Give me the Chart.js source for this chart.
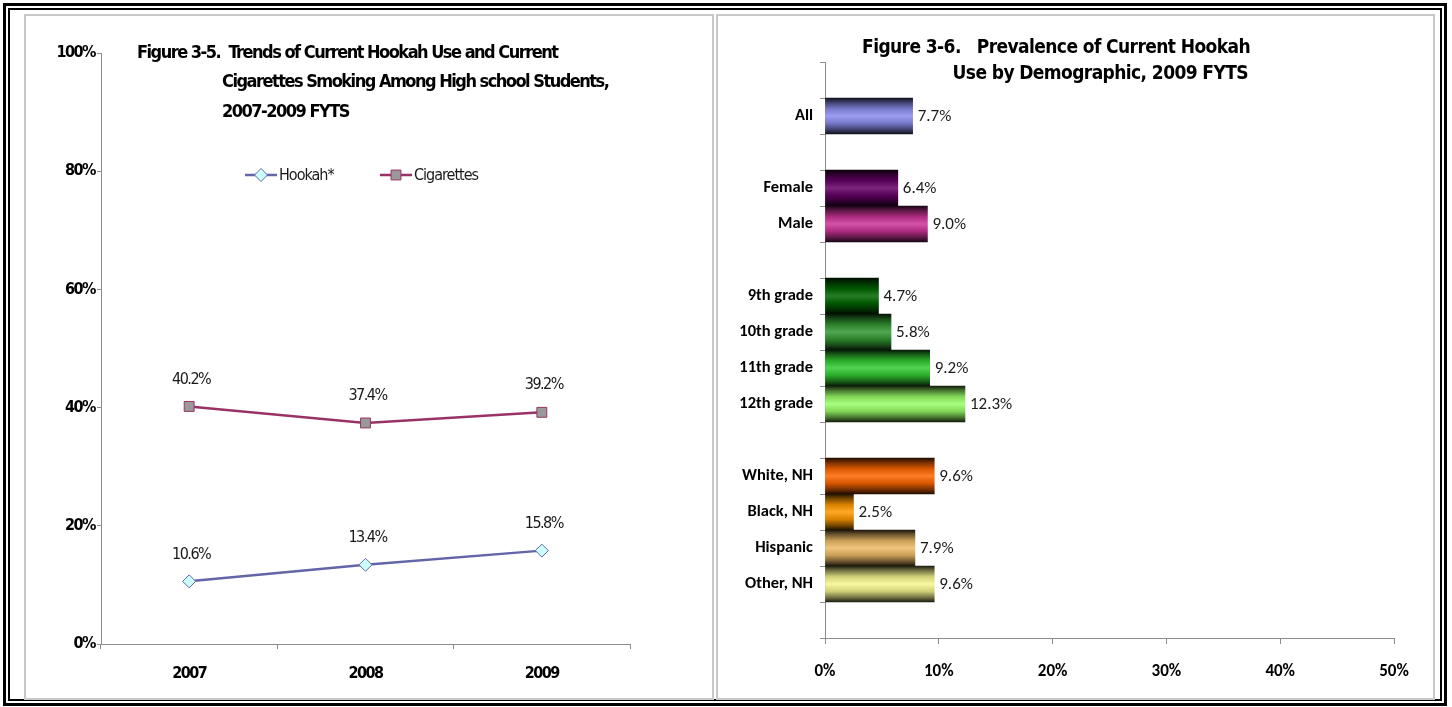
<!DOCTYPE html>
<html>
<head>
<meta charset="utf-8">
<script src="https://cdn.jsdelivr.net/npm/chart.js@4.4.1/dist/chart.umd.min.js"></script>
<style>
  html, body { margin: 0; padding: 0; background: #ffffff; }
  body { width: 1452px; height: 707px; position: relative; overflow: hidden; }
  #outer { position: absolute; left: 3px; top: 3px; width: 1444px; height: 703px; box-sizing: border-box; border: 3px solid #000; padding: 2px; }
  #inner { width: 100%; height: 100%; box-sizing: border-box; border: 2px solid #000; }
  .panel { position: absolute; box-sizing: border-box; border: 2px solid #c8c8c8; background: #fff; }
  #p1 { left: 24px; top: 14px; width: 690px; height: 686px; }
  #p2 { left: 716px; top: 14px; width: 719px; height: 686px; }
  canvas { position: absolute; }
  #c1 { left: 27px; top: 17px; }
  #c2 { left: 719px; top: 17px; }
</style>
</head>
<body>
<div id="outer"><div id="inner"></div></div>
<div class="panel" id="p1"></div>
<div class="panel" id="p2"></div>
<canvas id="c1" width="684" height="680"></canvas>
<canvas id="c2" width="712" height="680"></canvas>
<script>
// ---------- Data: Figure 3-5 ----------
const years = ['2007', '2008', '2009'];
const hookah = [10.6, 13.4, 15.8];
const cigarettes = [40.2, 37.4, 39.2];
const lineTitle = [
  'Figure 3-5.  Trends of Current Hookah Use and Current',
  'Cigarettes Smoking Among High school Students,',
  '2007-2009 FYTS'
];

// ---------- Data: Figure 3-6 ----------
const demoLabels = ['', 'All', '', 'Female', 'Male', '', '9th grade', '10th grade', '11th grade', '12th grade', '', 'White, NH', 'Black, NH', 'Hispanic', 'Other, NH', ''];
const demoValues = [null, 7.7, null, 6.4, 9.0, null, 4.7, 5.8, 9.2, 12.3, null, 9.6, 2.5, 7.9, 9.6, null];
const demoColors = [null, '#8c8cf0', null, '#660066', '#cc3399', null, '#006600', '#339933', '#33cc33', '#99ff66', null, '#ff6600', '#ff9900', '#eebb66', '#f6f690', null];
const barTitle = ['Figure 3-6.   Prevalence of Current Hookah', 'Use by Demographic, 2009 FYTS'];

const NARROW = "'Liberation Sans Narrow', 'DejaVu Sans Condensed', 'Arial Narrow', sans-serif";
const CAL = "Carlito, Lato, 'Open Sans', sans-serif";

Chart.defaults.devicePixelRatio = 1;
Chart.defaults.animation = false;

function shade(hex, f) {
  const n = parseInt(hex.slice(1), 16);
  let r = (n >> 16) & 255, g = (n >> 8) & 255, b = n & 255;
  if (f < 0) { r = r * (1 + f); g = g * (1 + f); b = b * (1 + f); }
  else { r = r + (255 - r) * f; g = g + (255 - g) * f; b = b + (255 - b) * f; }
  return 'rgb(' + Math.round(r) + ',' + Math.round(g) + ',' + Math.round(b) + ')';
}

// ---------- Chart 1 ----------
const lineLabelPlugin = {
  id: 'lineLabels',
  beforeDraw(chart) {
    chart.ctx.letterSpacing = '-1.5px';
  },
  afterDatasetsDraw(chart) {
    const ctx = chart.ctx;
    ctx.save();
    ctx.letterSpacing = '-1.5px';
    ctx.font = "16px " + NARROW;
    ctx.fillStyle = '#1a1a1a';
    ctx.textAlign = 'center';
    ctx.textBaseline = 'middle';
    chart.data.datasets.forEach((ds, i) => {
      chart.getDatasetMeta(i).data.forEach((pt, j) => {
        ctx.fillText(ds.data[j].toFixed(1) + '%', pt.x + 2, pt.y - 27);
      });
    });
    // title
    ctx.textAlign = 'left';
    ctx.fillStyle = '#000';
    ctx.font = "bold 18px " + NARROW;
    ctx.fillText(lineTitle[0], 110, 36);
    ctx.fillText(lineTitle[1], 195, 65);
    ctx.fillText(lineTitle[2], 195, 95);
    // legend
    const items = [
      { ds: chart.data.datasets[0], x: 218, tx: 252 },
      { ds: chart.data.datasets[1], x: 353, tx: 387 }
    ];
    const ly = 158;
    ctx.font = "16px " + NARROW;
    ctx.letterSpacing = '-1px';
    items.forEach(it => {
      ctx.strokeStyle = it.ds.borderColor;
      ctx.lineWidth = 2.5;
      ctx.beginPath(); ctx.moveTo(it.x, ly); ctx.lineTo(it.x + 32, ly); ctx.stroke();
      ctx.fillStyle = it.ds.pointBackgroundColor;
      ctx.strokeStyle = it.ds.pointBorderColor;
      ctx.lineWidth = 1;
      ctx.beginPath();
      const cx = it.x + 16;
      if (it.ds.pointStyle === 'rectRot') {
        const r = it.ds.pointRadius;
        ctx.moveTo(cx, ly - r); ctx.lineTo(cx + r, ly); ctx.lineTo(cx, ly + r); ctx.lineTo(cx - r, ly); ctx.closePath();
      } else {
        const s = Math.SQRT1_2 * it.ds.pointRadius;
        ctx.rect(cx - s, ly - s, 2 * s, 2 * s);
      }
      ctx.fill(); ctx.stroke();
      ctx.fillStyle = '#1a1a1a';
      ctx.fillText(it.ds.label, it.tx, ly + 1);
    });
    ctx.restore();
  }
};

new Chart(document.getElementById('c1'), {
  type: 'line',
  data: {
    labels: years,
    datasets: [
      { label: 'Hookah*', data: hookah, borderColor: '#6464a8', borderWidth: 2.5,
        pointStyle: 'rectRot', pointRadius: 6.5, pointBackgroundColor: '#ccffff',
        pointBorderColor: '#6464a8', pointBorderWidth: 1, tension: 0 },
      { label: 'Cigarettes', data: cigarettes, borderColor: '#993366', borderWidth: 2.5,
        pointStyle: 'rect', pointRadius: 7, pointBackgroundColor: '#999999',
        pointBorderColor: '#993366', pointBorderWidth: 1, tension: 0 }
    ]
  },
  options: {
    responsive: false,
    layout: { padding: { left: 0, right: 81, top: 36, bottom: 0 } },
    plugins: { legend: { display: false }, tooltip: { enabled: false }, title: { display: false } },
    scales: {
      x: {
        offset: true,
        grid: { display: true, drawOnChartArea: false, offset: true, tickLength: 5, color: '#8c8c8c' },
        border: { color: '#8c8c8c', width: 1 },
        ticks: { color: '#000', font: { family: NARROW, size: 16, weight: 'bold' }, padding: 15 },
        afterFit(s) { s.height = 53; }
      },
      y: {
        min: 0, max: 100,
        ticks: { stepSize: 20, callback: v => v + '%', color: '#000', font: { family: NARROW, size: 16, weight: 'bold' }, padding: 2 },
        grid: { display: true, drawOnChartArea: false, tickLength: 4, color: '#8c8c8c' },
        border: { color: '#8c8c8c', width: 1 },
        afterFit(s) { s.width = 74; }
      }
    }
  },
  plugins: [lineLabelPlugin]
});

// ---------- Chart 2 ----------
const barLabelPlugin = {
  id: 'barLabels',
  afterDatasetsDraw(chart) {
    const ctx = chart.ctx;
    ctx.save();
    ctx.font = "17px " + CAL;
    ctx.fillStyle = '#1a1a1a';
    ctx.textAlign = 'left';
    ctx.textBaseline = 'middle';
    const ds = chart.data.datasets[0];
    chart.getDatasetMeta(0).data.forEach((bar, j) => {
      const v = ds.data[j];
      if (v === null || v === undefined) return;
      ctx.fillText(v.toFixed(1) + '%', bar.x + 5, bar.y + 1);
    });
    ctx.textAlign = 'right';
    ctx.fillStyle = '#000';
    ctx.letterSpacing = '-0.6px';
    ctx.font = "bold 19px " + NARROW;
    ctx.fillText(barTitle[0], 531, 31);
    ctx.fillText(barTitle[1], 529, 57);
    ctx.restore();
  }
};

new Chart(document.getElementById('c2'), {
  type: 'bar',
  data: {
    labels: demoLabels,
    datasets: [{
      data: demoValues,
      barPercentage: 1.0,
      categoryPercentage: 1.0,
      borderWidth: 0,
      backgroundColor(ctx) {
        const base = demoColors[ctx.dataIndex] || '#888888';
        const chart = ctx.chart;
        const ys = chart.scales && chart.scales.y;
        if (!ys || !chart.chartArea) return base;
        const yc = ys.getPixelForValue(ctx.dataIndex);
        const h = ys.height / demoLabels.length;
        if (!isFinite(yc) || !isFinite(h) || h <= 0) return base;
        const g = chart.ctx.createLinearGradient(0, yc - h / 2, 0, yc + h / 2);
        g.addColorStop(0, shade(base, -0.88));
        g.addColorStop(0.12, shade(base, -0.55));
        g.addColorStop(0.3, shade(base, -0.15));
        g.addColorStop(0.5, shade(base, 0.15));
        g.addColorStop(0.7, shade(base, -0.15));
        g.addColorStop(0.88, shade(base, -0.55));
        g.addColorStop(1, shade(base, -0.88));
        return g;
      }
    }]
  },
  options: {
    indexAxis: 'y',
    responsive: false,
    layout: { padding: { left: 0, right: 37, top: 45, bottom: 0 } },
    plugins: { legend: { display: false }, tooltip: { enabled: false }, title: { display: false } },
    scales: {
      x: {
        min: 0, max: 50,
        ticks: { stepSize: 10, callback: v => v + '%', color: '#000', font: { family: CAL, size: 17, weight: 'bold' }, padding: 18 },
        grid: { display: true, drawOnChartArea: false, tickLength: 6, color: '#8c8c8c' },
        border: { color: '#8c8c8c', width: 1 },
        afterFit(s) { s.height = 59; }
      },
      y: {
        offset: true,
        ticks: { color: '#000', font: { family: CAL, size: 16.5, weight: 'bold' }, padding: 7, autoSkip: false },
        grid: { display: true, drawOnChartArea: false, offset: true, tickLength: 5, color: '#8c8c8c' },
        border: { color: '#8c8c8c', width: 1 },
        afterFit(s) { s.width = 106; }
      }
    }
  },
  plugins: [barLabelPlugin]
});
</script>
</body>
</html>
